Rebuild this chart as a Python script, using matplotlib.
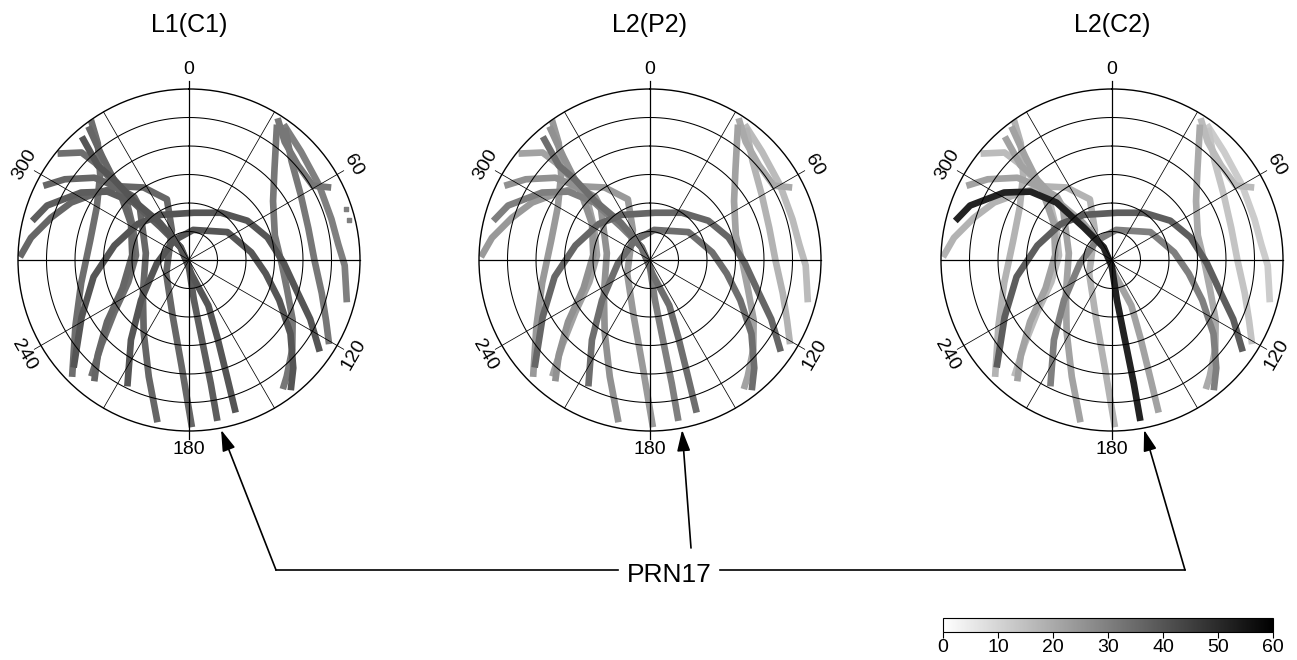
import numpy as np
import matplotlib
matplotlib.use('Agg')
import matplotlib.pyplot as plt
from matplotlib.colors import Normalize
from matplotlib.colorbar import ColorbarBase
from matplotlib.lines import Line2D

W, H = 1297, 660
fig = plt.figure(figsize=(W / 100, H / 100), dpi=100)
fig.patch.set_facecolor('white')

# ---------------- data ----------------
titles = ['L1(C1)', 'L2(P2)', 'L2(C2)']
az_labels = [0, 60, 120, 180, 240, 300]
ring_elev = [15, 30, 45, 60, 75]
spoke_az = [0, 30, 60, 90, 120, 150, 180, 210, 240, 270, 300, 330]
cbar_ticks = [0, 10, 20, 30, 40, 50, 60]
annot_text = 'PRN17'

# satellite tracks: azimuth (deg, clockwise from N) and elevation (deg)
prn17_az = [284, 291, 302, 310, 316, 319, 327, 183, 173, 171, 170, 170]
prn17_el = [5, 10, 23, 34, 48, 67, 82, 87, 69, 51, 24, 4]
t2_az = [319, 316, 317, 317, 322, 326, 169, 157, 160, 162, 163]
t2_el = [4, 21, 32, 47, 65, 82, 82, 64, 46, 25, 6]
d1_az = [227, 242, 260, 281, 305, 328, 6, 34, 56, 74, 92, 106, 116, 125]
d1_el = [7, 26, 39, 50, 57, 62, 65, 60, 53, 47, 40, 31, 19, 6]
d2_az = [206, 216, 230, 264, 322, 8, 54, 83, 100, 114, 126, 136, 142]
d2_el = [16, 38, 57, 73, 77, 74, 65, 57, 49, 38, 24, 11, 3]
v1_az = [325, 322, 314, 300, 281, 258, 240, 225]
v1_el = [0, 12, 25, 34, 37, 32, 21, 3]
v3_az = [323, 320, 315, 302, 275, 247, 233, 224, 218]
v3_el = [2, 19, 38, 54, 60, 52, 36, 21, 9]
la_az = [271, 278, 287, 296, 306, 317, 328, 340, 330, 239, 196, 184, 179]
la_el = [1, 6, 14, 21, 30, 37, 45, 56, 72, 76, 59, 34, 2]
lb_az = [297, 303, 311, 315, 319, 317, 279, 234, 212, 199, 191]
lb_el = [4, 12, 24, 35, 46, 52, 67, 60, 45, 25, 3]
lc_az = [309, 315, 316, 316, 314, 300, 275, 250, 235, 226, 220]
lc_el = [1, 10, 19, 28, 44, 56, 62, 56, 42, 26, 10]
r1_az = [32, 39, 49, 59, 63]
r1_el = [2, 10, 14, 14, 6]
r2_az = [33, 43, 55, 74, 93, 107, 120, 131, 140, 144]
r2_el = [5, 24, 36, 43, 41, 36, 27, 18, 10, 6]
r3_az = [36, 46, 60, 75, 90, 104, 114, 121]
r3_el = [4, 15, 22, 25, 24, 18, 11, 4]
r4_az = [35, 46, 60, 74, 84, 92, 105]
r4_el = [3, 8, 11, 12, 11, 8, 4]

tracks = [
    (la_az, la_el), (lb_az, lb_el), (lc_az, lc_el), (v1_az, v1_el),
    (v3_az, v3_el), (r1_az, r1_el), (r2_az, r2_el), (r3_az, r3_el),
    (r4_az, r4_el), (d2_az, d2_el), (d1_az, d1_el), (t2_az, t2_el),
    (prn17_az, prn17_el),
]
# signal value (0-60) per track, same order as tracks
vals_l1c1 = [36, 36, 34, 34, 36, 32, 32, 32, 30, 40, 40, 40, 38]
vals_l2p2 = [24, 26, 22, 24, 26, 20, 22, 18, 16, 34, 36, 34, 30]
vals_l2c2 = [18, 22, 16, 18, 22, 16, 20, 14, 12, 30, 38, 22, 52]
panel_vals = [vals_l1c1, vals_l2p2, vals_l2c2]

# isolated samples seen only in L1(C1)
dots_az = [72, 76]
dots_el = [3, 3]

prn17_tip_az = 169.3
prn17_tip_el = -1

# ---------------- layout ----------------
centers_x = [189, 650, 1112]
center_y = 260
R = 171
cmap = plt.get_cmap('gray_r')
norm = Normalize(0, 60)

label_font = ['Liberation Sans', 'DejaVu Sans']

axes = []
for i, cx in enumerate(centers_x):
    ax = fig.add_axes([(cx - R) / W, (H - center_y - R) / H, 2 * R / W, 2 * R / H],
                      projection='polar')
    ax.set_theta_zero_location('N')
    ax.set_theta_direction(-1)
    ax.set_rlim(0, 90)
    ax.set_facecolor('none')
    ax.set_xticks([])
    ax.set_yticks([])
    ax.grid(False)
    ax.spines['polar'].set_linewidth(1.0)
    ax.spines['polar'].set_color('black')

    # tracks
    order = np.argsort(panel_vals[i], kind='stable')
    for k in order:
        az, el = tracks[k]
        ax.plot(np.radians(az), 90 - np.array(el, dtype=float),
                color=cmap(norm(panel_vals[i][k])), lw=4.8,
                solid_capstyle='butt', solid_joinstyle='round', zorder=2)
    if i == 0:
        ax.scatter(np.radians(dots_az), 90 - np.array(dots_el, dtype=float),
                   s=6, marker='s', color=cmap(norm(30)), zorder=2, clip_on=False)

    # elevation rings
    th = np.linspace(0, 2 * np.pi, 361)
    for e in ring_elev:
        ax.plot(th, np.full_like(th, 90 - e), color='black', lw=0.75, zorder=5)

    # azimuth spokes
    for a in spoke_az:
        rmax = 94 if a in az_labels else 90
        lw = 0.9 if a % 90 == 0 else 0.55
        ax.plot([np.radians(a)] * 2, [0, rmax], color='black', lw=lw,
                zorder=5, clip_on=False)

    # azimuth labels
    for a in az_labels:
        rot = -a
        while rot <= -90:
            rot += 180
        while rot > 90:
            rot -= 180
        ax.text(np.radians(a), 100, str(a), rotation=rot, rotation_mode='anchor',
                ha='center', va='center', fontsize=14, family=label_font,
                clip_on=False)

    fig.text(cx / W, 1 - 25 / H, titles[i], ha='center', va='center',
             fontsize=18, family=label_font)
    axes.append(ax)

# ---------------- PRN17 annotation ----------------
line_y = 1 - 570 / H
tails = [(276, 570), (691, 548), (1185, 570)]
for ax, (tx, ty) in zip(axes, tails):
    ax.annotate('', xy=(np.radians(prn17_tip_az), 90 - prn17_tip_el), xycoords='data',
                xytext=(tx / W, 1 - ty / H), textcoords='figure fraction',
                arrowprops=dict(arrowstyle='-|>,head_length=0.8,head_width=0.25',
                                color='black', lw=1.2,
                                mutation_scale=16, shrinkA=0, shrinkB=0),
                annotation_clip=False)
fig.add_artist(Line2D([276 / W, 618 / W], [line_y, line_y], transform=fig.transFigure,
                      color='black', lw=1.2))
fig.add_artist(Line2D([720 / W, 1185 / W], [line_y, line_y], transform=fig.transFigure,
                      color='black', lw=1.2))
fig.text(669 / W, 1 - 575 / H, annot_text, ha='center', va='center', fontsize=19,
         family=label_font)

# ---------------- colour bar ----------------
cax = fig.add_axes([943 / W, 1 - 632 / H, 330 / W, 14 / H])
cb = ColorbarBase(cax, cmap=cmap, norm=norm, orientation='horizontal',
                  ticks=cbar_ticks)
cb.outline.set_linewidth(0.8)
cax.tick_params(axis='x', length=4, width=0.8, pad=1, labelsize=14)
for lab in cax.get_xticklabels():
    lab.set_family(label_font)

fig.savefig('out.png', dpi=100, facecolor='white')
